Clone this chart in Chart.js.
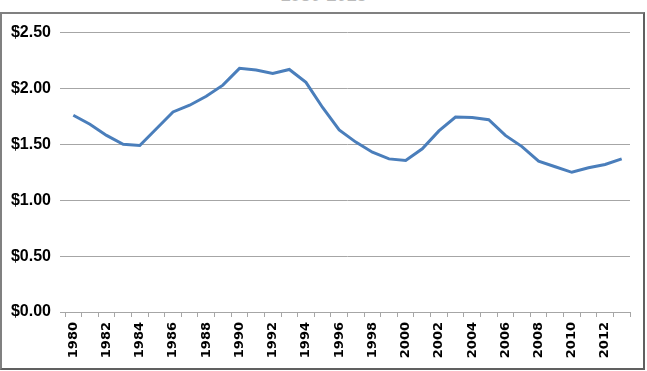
<!DOCTYPE html>
<html>
<head>
<meta charset="utf-8">
<script src="https://cdn.jsdelivr.net/npm/chart.js@4.4.1/dist/chart.umd.min.js"></script>
<style>
    body { margin: 0; background: #fff; width: 647px; height: 371px; overflow: hidden; position: relative; }
    #title { position: absolute; left: 0; width: 647px; top: -15px; text-align: center;
             font: bold 18px "Liberation Sans", sans-serif; color: #bbb; }
    #frame { position: absolute; left: 0; top: 12px; width: 641px; height: 354px;
             border: 2px solid #808080; border-bottom-color: #606060; border-right-color: #606060; background: #fff; }
    #frame canvas { display: block; }
</style>
</head>
<body>
<div id="title">1980-2013</div>
<div id="frame"><canvas id="chart" width="641" height="354"></canvas></div>
<script>
// yearly values
const years = [1980, 1981, 1982, 1983, 1984, 1985, 1986, 1987, 1988, 1989,
               1990, 1991, 1992, 1993, 1994, 1995, 1996, 1997, 1998, 1999,
               2000, 2001, 2002, 2003, 2004, 2005, 2006, 2007, 2008, 2009,
               2010, 2011, 2012, 2013];
const prices = [1.76, 1.68, 1.58, 1.50, 1.49, 1.64, 1.79, 1.85, 1.93, 2.03,
                2.18, 2.165, 2.135, 2.17, 2.055, 1.83, 1.63, 1.52, 1.43, 1.37,
                1.355, 1.46, 1.62, 1.745, 1.74, 1.72, 1.58, 1.48, 1.35, 1.30,
                1.25, 1.29, 1.32, 1.37];
const yTicks = [0, 0.5, 1, 1.5, 2, 2.5];

const ctx = document.getElementById('chart').getContext('2d');
new Chart(ctx, {
    type: 'line',
    data: {
        labels: years.map(String),
        datasets: [{
            data: prices,
            borderColor: '#4a7ebb',
            borderWidth: 3,
            pointRadius: 0,
            tension: 0,
            fill: false
        }]
    },
    options: {
        responsive: false,
        animation: false,
        layout: { padding: { top: 16, right: 13, left: 0, bottom: 0 } },
        plugins: { legend: { display: false }, tooltip: { enabled: false } },
        scales: {
            x: {
                offset: true,
                grid: { offset: true, drawOnChartArea: false, tickLength: 5, color: '#a6a6a6' },
                border: { color: '#a6a6a6' },
                ticks: {
                    autoSkip: false, maxRotation: 90, minRotation: 90, padding: 5,
                    color: '#000', font: { family: 'DejaVu Sans', weight: 'bold', size: 13 },
                    callback: (v, i) => (i % 2 === 0 ? years[i] : '')
                },
                afterFit: (axis) => { axis.height = 56; }
            },
            y: {
                min: 0, max: 2.5,
                afterBuildTicks: (axis) => { axis.ticks = yTicks.map(v => ({ value: v })); },
                grid: { color: '#a6a6a6', tickLength: 5 },
                border: { display: false },
                ticks: {
                    padding: 9, color: '#000',
                    font: { family: 'Liberation Sans', weight: 'bold', size: 16 },
                    callback: (v) => '$' + Number(v).toFixed(2)
                },
                afterFit: (axis) => { axis.width = 63; }
            }
        }
    }
});
</script>
</body>
</html>
